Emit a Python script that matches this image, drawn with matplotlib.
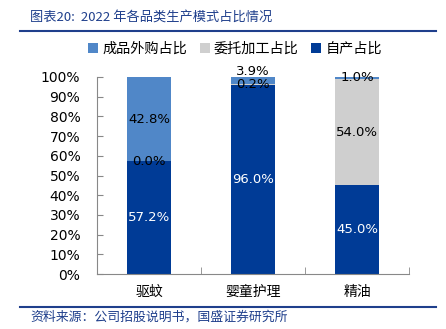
import numpy as np
from matplotlib import pyplot as plt

plt.rcParams['font.family'] = ['DejaVu Sans', 'Noto Sans CJK SC']

categories = ['驱蚊', '婴童护理', '精油']
self_made = [57.2, 96.0, 45.0]     # 自产占比
oem = [0.0, 0.2, 54.0]             # 委托加工占比
purchased = [42.8, 3.9, 1.0]       # 成品外购占比
yticks = [0, 10, 20, 30, 40, 50, 60, 70, 80, 90, 100]

c_purchase = '#5087C8'
c_oem = '#CFCFCF'
c_self = '#003B96'
navy = '#1F3F8C'

fig = plt.figure(figsize=(4.46, 3.29), dpi=100)
ax = fig.add_axes([97 / 446, (329 - 274) / 329, 312 / 446, 197 / 329])

x = np.arange(len(categories))
w = 0.42
b1 = ax.bar(x, self_made, w, color=c_self, label='自产占比')
b2 = ax.bar(x, oem, w, bottom=self_made, color=c_oem, label='委托加工占比')
bottom3 = np.array(self_made) + np.array(oem)
b3 = ax.bar(x, purchased, w, bottom=bottom3, color=c_purchase, label='成品外购占比')

fs = 9.5
for i in range(len(categories)):
    ax.text(x[i], self_made[i] / 2, f'{self_made[i]:.1f}%', ha='center', va='center',
            color='white', fontsize=fs)
    ax.text(x[i], self_made[i] + oem[i] / 2, f'{oem[i]:.1f}%', ha='center', va='center',
            color='black', fontsize=fs)
    yp = min(bottom3[i] + purchased[i] / 2, 99.5)
    off = 4.5 if 3 < purchased[i] < 10 else 0
    ax.text(x[i], yp + off, f'{purchased[i]:.1f}%', ha='center', va='center',
            color='black', fontsize=fs)

ax.set_xlim(-0.5, 2.5)
ax.set_ylim(0, 100)
ax.set_yticks(yticks)
ax.set_yticklabels([f'{t}%' for t in yticks], fontsize=fs + 0.5)
ax.set_xticks(x)
ax.set_xticklabels(categories, fontsize=10, family=['Noto Sans CJK SC'])
ax.set_xticks([0.5, 1.5, 2.5], minor=True)
ax.tick_params(axis='x', which='major', length=0, pad=8)
ax.tick_params(axis='x', which='minor', length=5, color='#888888', direction='in')
ax.tick_params(axis='y', length=4, color='#888888', direction='in', pad=12)
for s in ['top', 'right']:
    ax.spines[s].set_visible(False)
ax.spines['left'].set_color('#888888')
ax.spines['bottom'].set_color('#888888')

ax.legend([b3, b2, b1], ['成品外购占比', '委托加工占比', '自产占比'], loc='center',
          bbox_to_anchor=(235 / 446, 1 - 49 / 329), bbox_transform=fig.transFigure,
          ncol=3, frameon=False, prop={'family': 'Noto Sans CJK SC', 'size': 10.2},
          handlelength=0.7, handleheight=0.7, handletextpad=0.3, columnspacing=0.9)

fig.text(30 / 446, 1 - 17 / 329, '图表20:  2022 年各品类生产模式占比情况', color=navy,
         fontsize=9.5, style='italic', va='center', family=['Noto Sans CJK SC'])
fig.add_artist(plt.Line2D([20 / 446, 436 / 446], [1 - 31 / 329] * 2, color=navy, lw=1.5))
fig.add_artist(plt.Line2D([20 / 446, 436 / 446], [1 - 307 / 329] * 2, color=navy, lw=1.5))
fig.text(30 / 446, 1 - 317 / 329, '资料来源：公司招股说明书，国盛证券研究所', color=navy,
         fontsize=9.3, style='italic', va='center', family=['Noto Sans CJK SC'])

fig.savefig('out.png', dpi=100)
